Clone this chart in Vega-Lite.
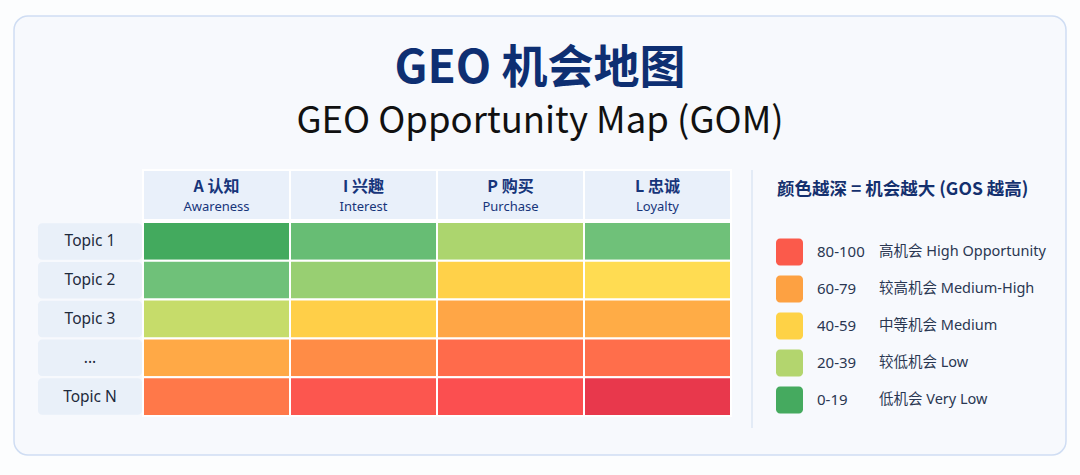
{
  "$schema": "https://vega.github.io/schema/vega-lite/v6.json",
  "width": 1052,
  "height": 439,
  "autosize": {"type": "none"},
  "padding": {"left": 14, "top": 16, "right": 14, "bottom": 20},
  "background": "#fcfdfe",
  "config": {
    "view": {"fill": "#f7f9fd", "stroke": "#cfddf3", "strokeWidth": 1.5, "cornerRadius": 14},
    "text": {"font": "Noto Sans, Noto Sans CJK SC"}
  },
  "title": {
    "text": "GEO 机会地图",
    "subtitle": "GEO Opportunity Map (GOM)",
    "anchor": "middle",
    "offset": -125,
    "font": "Noto Sans CJK SC",
    "fontSize": 46,
    "fontWeight": "bold",
    "color": "#0e2f72",
    "subtitleFont": "Noto Sans CJK SC",
    "subtitleFontSize": 36.5,
    "subtitleColor": "#111111",
    "subtitleFontWeight": "normal",
    "subtitlePadding": 11
  },
  "datasets": {
    "cells": [
      {"topic": "Topic 1", "stage": "A", "gos": 2},
      {"topic": "Topic 1", "stage": "I", "gos": 15},
      {"topic": "Topic 1", "stage": "P", "gos": 31},
      {"topic": "Topic 1", "stage": "L", "gos": 18},
      {"topic": "Topic 2", "stage": "A", "gos": 18},
      {"topic": "Topic 2", "stage": "I", "gos": 27},
      {"topic": "Topic 2", "stage": "P", "gos": 49},
      {"topic": "Topic 2", "stage": "L", "gos": 43},
      {"topic": "Topic 3", "stage": "A", "gos": 36},
      {"topic": "Topic 3", "stage": "I", "gos": 50},
      {"topic": "Topic 3", "stage": "P", "gos": 64},
      {"topic": "Topic 3", "stage": "L", "gos": 62},
      {"topic": "...", "stage": "A", "gos": 63},
      {"topic": "...", "stage": "I", "gos": 72},
      {"topic": "...", "stage": "P", "gos": 82},
      {"topic": "...", "stage": "L", "gos": 81},
      {"topic": "Topic N", "stage": "A", "gos": 78},
      {"topic": "Topic N", "stage": "I", "gos": 88},
      {"topic": "Topic N", "stage": "P", "gos": 90},
      {"topic": "Topic N", "stage": "L", "gos": 100}
    ],
    "cols": [
      {"stage": "A", "cn": "A 认知", "en": "Awareness"},
      {"stage": "I", "cn": "I 兴趣", "en": "Interest"},
      {"stage": "P", "cn": "P 购买", "en": "Purchase"},
      {"stage": "L", "cn": "L 忠诚", "en": "Loyalty"}
    ],
    "topics": [
      {"topic": "Topic 1"}, {"topic": "Topic 2"}, {"topic": "Topic 3"}, {"topic": "..."}, {"topic": "Topic N"}
    ],
    "legend": [
      {"rng": "80-100", "lab": "高机会  High Opportunity"},
      {"rng": "60-79", "lab": "较高机会  Medium-High"},
      {"rng": "40-59", "lab": "中等机会  Medium"},
      {"rng": "20-39", "lab": "较低机会  Low"},
      {"rng": "0-19", "lab": "低机会  Very Low"}
    ],
    "note": [{"t": "颜色越深 = 机会越大 (GOS 越高)"}]
  },
  "resolve": {"scale": {"x": "independent", "y": "independent", "color": "independent"}},
  "layer": [
    {
      "data": {"name": "cells"},
      "mark": {"type": "rect", "stroke": "#ffffff", "strokeWidth": 2},
      "encoding": {
        "x": {"field": "stage", "type": "nominal", "axis": null, "scale": {"domain": ["A", "I", "P", "L"], "range": [129, 717], "paddingInner": 0, "paddingOuter": 0}},
        "y": {"field": "topic", "type": "nominal", "axis": null, "scale": {"domain": ["Topic 1", "Topic 2", "Topic 3", "...", "Topic N"], "range": [206, 400], "paddingInner": 0, "paddingOuter": 0}},
        "color": {"field": "gos", "type": "quantitative", "legend": null, "scale": {"interpolate": "rgb", "domain": [0, 18, 28, 36, 43, 50, 63, 72, 82, 90, 100], "range": ["#3ea75b", "#6fc179", "#9cd071", "#c6dc6a", "#ffdc52", "#ffcf48", "#ffa946", "#ff8c46", "#ff6b4b", "#fb4f50", "#e8384c"]}}
      }
    },
    {
      "data": {"name": "cols"},
      "encoding": {
        "x": {"field": "stage", "type": "nominal", "axis": null, "scale": {"domain": ["A", "I", "P", "L"], "range": [129, 717], "paddingInner": 0, "paddingOuter": 0}},
        "y": {"datum": "h", "type": "nominal", "axis": null, "scale": {"domain": ["h"], "range": [154, 204], "paddingInner": 0, "paddingOuter": 0}}
      },
      "layer": [
        {"mark": {"type": "rect", "fill": "#e9f0fa", "stroke": "#ffffff", "strokeWidth": 2}},
        {"mark": {"type": "text", "font": "Noto Sans CJK SC", "fontWeight": "bold", "fontSize": 16, "color": "#17357a", "baseline": "middle", "dy": -8}, "encoding": {"text": {"field": "cn"}}},
        {"mark": {"type": "text", "font": "Noto Sans", "fontSize": 13, "color": "#17357a", "baseline": "middle", "dy": 12}, "encoding": {"text": {"field": "en"}}}
      ]
    },
    {
      "data": {"name": "topics"},
      "encoding": {
        "x": {"datum": "lbl", "type": "nominal", "axis": null, "scale": {"domain": ["lbl"], "range": [24, 128], "paddingInner": 0, "paddingOuter": 0}},
        "y": {"field": "topic", "type": "nominal", "axis": null, "scale": {"domain": ["Topic 1", "Topic 2", "Topic 3", "...", "Topic N"], "range": [206, 400], "paddingInner": 0.06, "paddingOuter": 0.03}}
      },
      "layer": [
        {"mark": {"type": "rect", "fill": "#e9f0f9", "cornerRadius": 4}},
        {"mark": {"type": "text", "font": "Noto Sans", "fontSize": 15.5, "color": "#1e2a3c", "baseline": "middle"}, "encoding": {"text": {"field": "topic"}}}
      ]
    },
    {
      "data": {"name": "note"},
      "mark": {"type": "rule", "color": "#dce6f3", "strokeWidth": 1.5},
      "encoding": {
        "x": {"datum": "d", "type": "nominal", "axis": null, "scale": {"domain": ["d"], "range": [728, 748], "paddingInner": 0, "paddingOuter": 0}},
        "y": {"datum": "a", "type": "nominal", "axis": null, "scale": {"type": "point", "domain": ["a", "b"], "range": [154, 412], "padding": 0}},
        "y2": {"datum": "b"}
      }
    },
    {
      "data": {"name": "note"},
      "mark": {"type": "text", "font": "Noto Sans CJK SC", "fontWeight": "bold", "fontSize": 17.5, "color": "#14306e", "align": "left", "baseline": "middle"},
      "encoding": {
        "x": {"datum": "t", "type": "nominal", "axis": null, "scale": {"type": "point", "domain": ["t"], "range": [763, 1040], "padding": 0, "align": 0}},
        "y": {"datum": "t", "type": "nominal", "axis": null, "scale": {"domain": ["t"], "range": [160, 188], "paddingInner": 0, "paddingOuter": 0}},
        "text": {"field": "t"}
      }
    },
    {
      "data": {"name": "legend"},
      "resolve": {"scale": {"x": "independent", "color": "independent"}},
      "encoding": {
        "y": {"field": "rng", "type": "nominal", "axis": null, "scale": {"domain": ["80-100", "60-79", "40-59", "20-39", "0-19"], "range": [217.5, 402.5], "paddingInner": 0.27, "paddingOuter": 0.135}}
      },
      "layer": [
        {
          "mark": {"type": "rect", "cornerRadius": 4},
          "encoding": {
            "x": {"datum": "sw", "type": "nominal", "axis": null, "scale": {"domain": ["sw"], "range": [762, 789], "paddingInner": 0, "paddingOuter": 0}},
            "color": {"field": "rng", "type": "nominal", "legend": null, "scale": {"domain": ["80-100", "60-79", "40-59", "20-39", "0-19"], "range": ["#fb5a4b", "#fda142", "#fed246", "#b3d56e", "#45aa5f"]}}
          }
        },
        {
          "mark": {"type": "text", "font": "Noto Sans", "fontSize": 15, "color": "#2a3752", "align": "left", "baseline": "middle"},
          "encoding": {
            "x": {"datum": "r", "type": "nominal", "axis": null, "scale": {"type": "point", "domain": ["r"], "range": [803, 865], "padding": 0, "align": 0}},
            "text": {"field": "rng"}
          }
        },
        {
          "mark": {"type": "text", "font": "Noto Sans, Noto Sans CJK SC", "fontSize": 14.5, "color": "#2a3752", "align": "left", "baseline": "middle"},
          "encoding": {
            "x": {"datum": "l", "type": "nominal", "axis": null, "scale": {"type": "point", "domain": ["l"], "range": [865, 1045], "padding": 0, "align": 0}},
            "text": {"field": "lab"}
          }
        }
      ]
    }
  ]
}
